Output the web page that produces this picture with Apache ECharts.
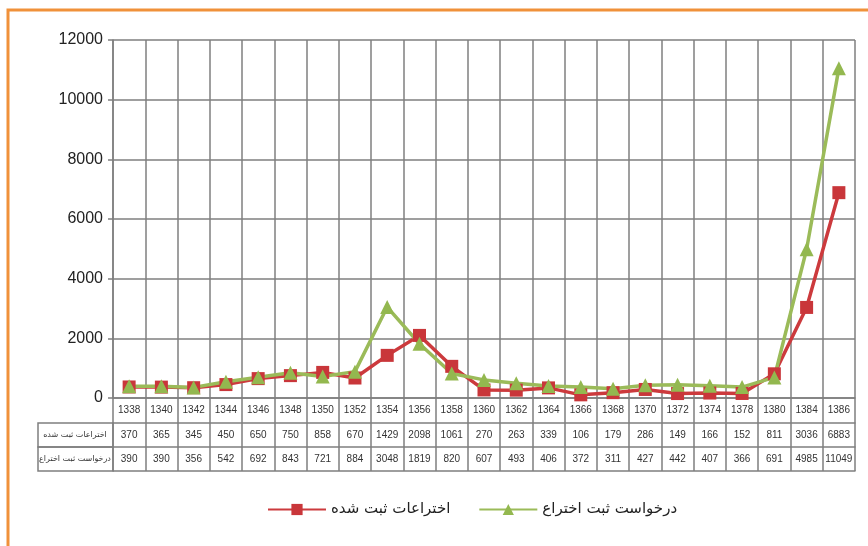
<!DOCTYPE html>
<html>
<head>
<meta charset="utf-8">
<script src="https://cdn.jsdelivr.net/npm/echarts@6/dist/echarts.min.js"></script>
<style>
  html, body { margin: 0; padding: 0; background: #fff; }
  #main { width: 868px; height: 546px; }
</style>
</head>
<body>
<div id="main"></div>
<script>
const categories = ['1338', '1340', '1342', '1344', '1346', '1348', '1350', '1352', '1354', '1356', '1358', '1360',
  '1362', '1364', '1366', '1368', '1370', '1372', '1374', '1378', '1380', '1384', '1386']
// اختراعات ثبت شده
const granted = [370, 365, 345, 450, 650, 750, 858, 670, 1429, 2098, 1061, 270, 263, 339, 106, 179, 286, 149, 166, 152, 811, 3036, 6883]
// درخواست ثبت اختراع
const applications = [390, 390, 356, 542, 692, 843, 721, 884, 3048, 1819, 820, 607, 493, 406, 372, 311, 427, 442, 407, 366, 691, 4985, 11049]
const seriesNames = ['اختراعات ثبت شده', 'درخواست ثبت اختراع']

const gridColor = '#7f7f7f'
const font = 'Liberation Sans, DejaVu Sans, sans-serif'

// one category axis per table row, shifted down with offset
const tableAxis = (offset, formatter, showLabel, tickLen) => ({
  type: 'category',
  data: categories,
  position: 'bottom',
  offset: offset,
  boundaryGap: true,
  axisLine: { show: true, lineStyle: { color: gridColor, width: 1.5 } },
  axisTick: { show: tickLen > 0, interval: 0, length: tickLen, lineStyle: { color: gridColor, width: 1.5 } },
  axisLabel: { show: showLabel, interval: 0, margin: 7, fontSize: 10, color: '#333', fontFamily: font, formatter: formatter },
  splitLine: { show: false }
})

const chart = echarts.init(document.getElementById('main'))
const option = {
  animation: false,
  backgroundColor: '#fff',
  grid: { left: 113, right: 13, top: 40, bottom: 148 },
  legend: {
    bottom: 24,
    left: 262,
    itemWidth: 58,
    itemHeight: 14,
    itemGap: 28,
    textStyle: { fontSize: 15, color: '#222', fontFamily: 'DejaVu Sans, sans-serif' },
    data: seriesNames
  },
  xAxis: [
    {
      type: 'category',
      data: categories,
      boundaryGap: true,
      axisLine: { show: true, lineStyle: { color: gridColor, width: 1.5 } },
      axisTick: { show: true, interval: 0, length: 25, lineStyle: { color: gridColor, width: 1.5 } },
      axisLabel: { interval: 0, margin: 7, fontSize: 10, color: '#333', fontFamily: font },
      splitLine: { show: true, interval: 0, lineStyle: { color: gridColor, width: 1.5 } }
    },
    tableAxis(25, (v, i) => String(granted[i]), true, 24),
    tableAxis(49, (v, i) => String(applications[i]), true, 24),
    tableAxis(73, () => '', false, 0)
  ],
  yAxis: {
    type: 'value',
    min: 0,
    max: 12000,
    interval: 2000,
    axisLine: { show: true, lineStyle: { color: gridColor, width: 1.5 } },
    axisTick: { show: true, length: 5, lineStyle: { color: gridColor, width: 1.5 } },
    axisLabel: { fontSize: 16, color: '#222', margin: 10, fontFamily: font, formatter: v => String(v) },
    splitLine: { show: true, lineStyle: { color: gridColor, width: 1.5 } }
  },
  series: [
    {
      name: seriesNames[0],
      type: 'line',
      data: granted,
      symbol: 'rect',
      symbolSize: 13,
      color: '#cc3a3d',
      lineStyle: { width: 3.5, color: '#cc3a3d' },
      itemStyle: { color: '#c9363a' }
    },
    {
      name: seriesNames[1],
      type: 'line',
      data: applications,
      symbol: 'triangle',
      symbolSize: 14,
      color: '#9bbb59',
      lineStyle: { width: 3.5, color: '#9bbb59' },
      itemStyle: { color: '#93b84f' }
    }
  ],
  graphic: [
    // orange frame of the original picture
    { type: 'rect', shape: { x: 8, y: 10, width: 880, height: 560 }, style: { fill: 'none', stroke: '#f0913a', lineWidth: 3 }, z: 100 },
    // row header cells of the data table
    { type: 'rect', shape: { x: 38, y: 423, width: 75, height: 24 }, style: { fill: 'none', stroke: gridColor, lineWidth: 1.5 } },
    { type: 'rect', shape: { x: 38, y: 447, width: 75, height: 24 }, style: { fill: 'none', stroke: gridColor, lineWidth: 1.5 } },
    { type: 'text', x: 75, y: 435, style: { text: seriesNames[0], fontSize: 8, fill: '#333', fontFamily: 'DejaVu Sans', align: 'center', verticalAlign: 'middle' } },
    { type: 'text', x: 75, y: 459, style: { text: seriesNames[1], fontSize: 8, fill: '#333', fontFamily: 'DejaVu Sans', align: 'center', verticalAlign: 'middle' } }
  ]
}
option && chart.setOption(option)
</script>
</body>
</html>
